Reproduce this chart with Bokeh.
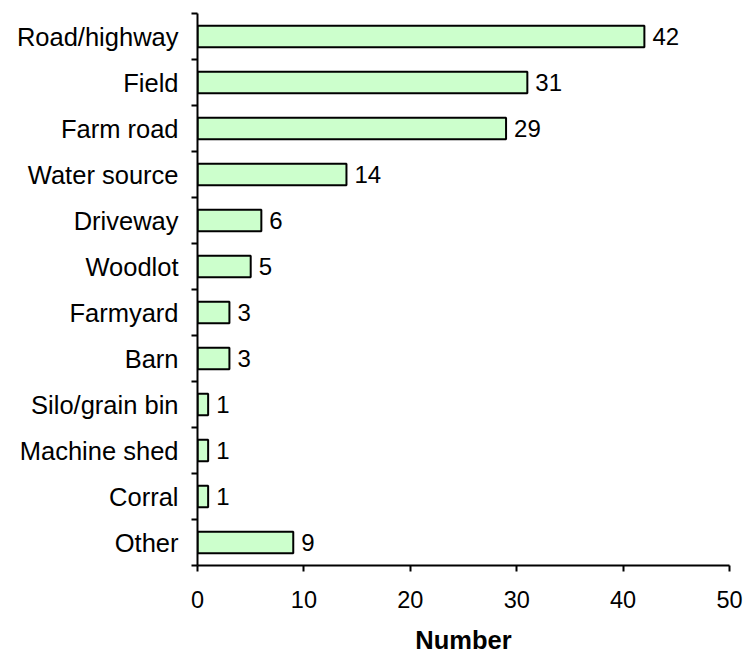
from bokeh.plotting import figure
from bokeh.models import FixedTicker, ColumnDataSource, Range1d
from bokeh.embed import file_html
from bokeh.resources import INLINE
from bokeh.core.properties import value

categories = ["Road/highway", "Field", "Farm road", "Water source", "Driveway",
              "Woodlot", "Farmyard", "Barn", "Silo/grain bin", "Machine shed",
              "Corral", "Other"]
counts = [42, 31, 29, 14, 6, 5, 3, 3, 1, 1, 1, 9]
x_ticks = [0, 10, 20, 30, 40, 50]

n = len(categories)
ypos = [n - i for i in range(n)]
src = ColumnDataSource(dict(y=ypos, v=counts, lab=[str(c) for c in counts], cat=categories))

FONT = "Liberation Sans"

p = figure(width=744, height=656, output_backend="svg", toolbar_location=None,
           x_range=Range1d(0, 50), y_range=Range1d(0.5, n + 0.5),
           min_border_left=197, min_border_right=15, min_border_top=13, min_border_bottom=89)
p.outline_line_color = None
p.xgrid.visible = False
p.ygrid.visible = False

p.hbar(y="y", right="v", left=0, height=0.47, source=src,
       fill_color="#CCFFCC", line_color="black", line_width=2)
p.text(x="v", y="y", text="lab", source=src, x_offset=8,
       text_baseline="middle", text_align="left",
       text_font=value(FONT), text_font_size="24px", text_color="black")

# x axis
xa = p.xaxis[0]
xa.ticker = FixedTicker(ticks=x_ticks, minor_ticks=[])
xa.axis_line_width = 2
xa.axis_line_color = "black"
xa.major_tick_line_width = 2
xa.major_tick_out = 6
xa.major_tick_in = 0
xa.minor_tick_line_color = None
xa.major_label_text_font = FONT
xa.major_label_text_font_size = "23.5px"
xa.major_label_text_color = "black"
xa.major_label_standoff = 19
xa.axis_label = "Number"
xa.axis_label_text_font = FONT
xa.axis_label_text_font_size = "25.5px"
xa.axis_label_text_font_style = "bold"
xa.axis_label_text_color = "black"
xa.axis_label_standoff = 15

# y axis
ya = p.yaxis[0]
ya.ticker = FixedTicker(ticks=ypos, minor_ticks=[k + 0.5 for k in range(n + 1)])
ya.major_label_overrides = {y: c for y, c in zip(ypos, categories)}
ya.axis_line_width = 2
ya.axis_line_color = "black"
ya.major_tick_line_color = None
ya.major_tick_out = 0
ya.major_tick_in = 0
ya.minor_tick_line_color = "black"
ya.minor_tick_line_width = 2
ya.minor_tick_out = 6
ya.minor_tick_in = 0
ya.major_label_text_font = FONT
ya.major_label_text_font_size = "25.5px"
ya.major_label_text_color = "black"
ya.major_label_standoff = 13

open("out.html", "w").write(file_html(p, INLINE))
